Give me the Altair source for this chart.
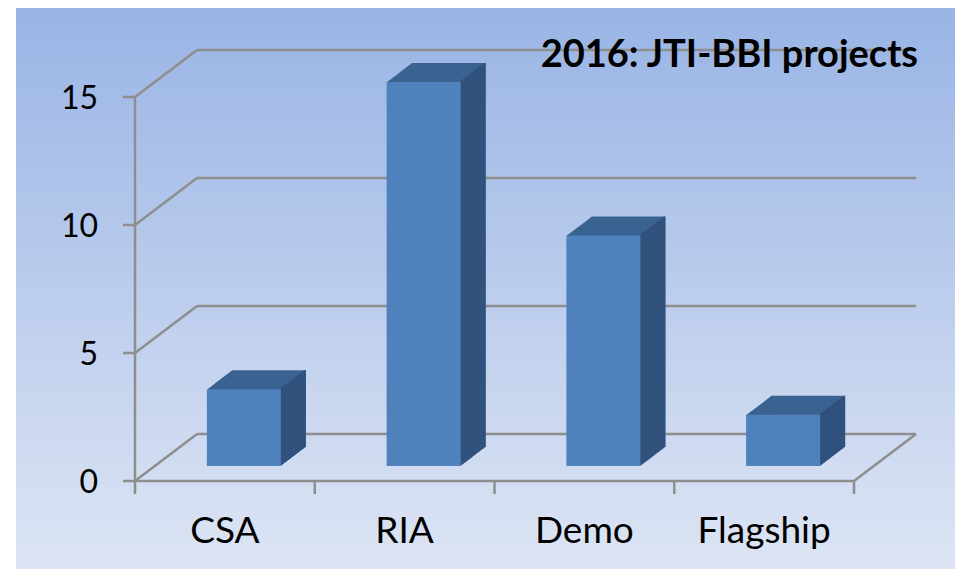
import altair as alt
import pandas as pd

# ---------------- data ----------------
categories = ["CSA", "RIA", "Demo", "Flagship"]
values = [3, 15, 9, 2]
y_ticks = [0, 5, 10, 15]
title_text = "2016: JTI-BBI projects"

n_cat = len(categories)
bars_df = pd.DataFrame({
    "category": categories,
    "value": values,
    "pos": [i + 0.5 for i in range(n_cat)],
})
grid_df = pd.DataFrame({"v": y_ticks, "label": [str(t) for t in y_ticks]})
bound_df = pd.DataFrame({"b": list(range(n_cat + 1))})
one_df = pd.DataFrame({"a": [0]})

# ---------------- style ----------------
W, H = 729, 384
FONT = "Lato"
GRAY = "#8e8e8e"
FRONT = "#4f81bd"
TOP = "#3b6391"
SIDE = "#30527e"
LW = 2.5
DEPTH_X, DEPTH_Y = 62, 47      # back wall offset (px)
BAR_DX, BAR_DY = 19, 15        # bars sit inside the floor (px)
BAR_W = 74
BAR_DEPTH = 25
SLOPE = 0.76

xs = alt.Scale(domain=[0, n_cat], nice=False, zero=False)
ys = alt.Scale(domain=[0, max(y_ticks)], nice=False)

def X(field=None, datum=None):
    if datum is not None:
        return alt.X(datum=datum, type="quantitative", scale=xs, axis=None)
    return alt.X(field, type="quantitative", scale=xs, axis=None)

def Y(field=None, datum=None):
    if datum is not None:
        return alt.Y(datum=datum, type="quantitative", scale=ys, axis=None)
    return alt.Y(field, type="quantitative", scale=ys, axis=None)

layers = []

# background panel with vertical gradient
grad = alt.LinearGradient(
    gradient="linear",
    stops=[alt.GradientStop(color="#99b4e5", offset=0),
           alt.GradientStop(color="#dde5f4", offset=1)],
    x1=0, x2=0, y1=0, y2=1,
)
layers.append(
    alt.Chart(one_df).mark_rect(color=grad).encode(
        x=alt.value(-114), x2=alt.value(825), y=alt.value(-89), y2=alt.value(472)
    )
)

# back wall gridlines
layers.append(
    alt.Chart(grid_df).mark_rule(
        color=GRAY, strokeWidth=LW,
        xOffset=DEPTH_X, x2Offset=DEPTH_X, yOffset=-DEPTH_Y, y2Offset=-DEPTH_Y,
    ).encode(x=X(datum=0), x2=alt.X2(datum=n_cat), y=Y("v"), y2=alt.Y2("v"))
)
# left wall diagonals
layers.append(
    alt.Chart(grid_df).mark_rule(
        color=GRAY, strokeWidth=LW, x2Offset=DEPTH_X, y2Offset=-DEPTH_Y,
    ).encode(x=X(datum=0), x2=alt.X2(datum=0), y=Y("v"), y2=alt.Y2("v"))
)
# floor right edge
layers.append(
    alt.Chart(one_df).mark_rule(
        color=GRAY, strokeWidth=LW, x2Offset=DEPTH_X, y2Offset=-DEPTH_Y,
    ).encode(x=X(datum=n_cat), x2=alt.X2(datum=n_cat), y=Y(datum=0), y2=alt.Y2(datum=0))
)

# front axes (drawn as rules)
layers.append(  # vertical axis line
    alt.Chart(one_df).mark_rule(color=GRAY, strokeWidth=LW).encode(
        x=X(datum=0), y=Y(datum=0), y2=alt.Y2(datum=max(y_ticks)))
)
layers.append(  # baseline
    alt.Chart(one_df).mark_rule(color=GRAY, strokeWidth=LW).encode(
        x=X(datum=0), x2=alt.X2(datum=n_cat), y=Y(datum=0))
)
layers.append(  # y ticks
    alt.Chart(grid_df).mark_rule(color=GRAY, strokeWidth=LW, x2Offset=-12).encode(
        x=X(datum=0), x2=alt.X2(datum=0), y=Y("v"), y2=alt.Y2("v"))
)
layers.append(  # x ticks at category boundaries
    alt.Chart(bound_df).mark_rule(color=GRAY, strokeWidth=LW, y2Offset=13).encode(
        x=X("b"), x2=alt.X2("b"), y=Y(datum=0), y2=alt.Y2(datum=0))
)
layers.append(  # y labels
    alt.Chart(grid_df).mark_text(
        font=FONT, fontSize=32, color="black", align="right",
        baseline="alphabetic", dx=-37, dy=12,
    ).encode(x=X(datum=0), y=Y("v"), text="label:N")
)

# bar extrusion: top face colour
for k in range(1, BAR_DEPTH + 1):
    off = -(BAR_DY + SLOPE * k)
    layers.append(
        alt.Chart(bars_df).mark_bar(
            color=TOP, size=BAR_W, orient="vertical",
            xOffset=BAR_DX + k, yOffset=off, y2Offset=off,
        ).encode(x=X("pos"), y=Y("value"), y2=alt.Y2(datum=0))
    )
# bar extrusion: side face colour
for k in range(1, BAR_DEPTH + 1):
    off = -(BAR_DY + SLOPE * k)
    layers.append(
        alt.Chart(bars_df).mark_bar(
            color=SIDE, size=2, orient="vertical",
            xOffset=BAR_DX + BAR_W / 2 - 1 + k, yOffset=off, y2Offset=off,
        ).encode(x=X("pos"), y=Y("value"), y2=alt.Y2(datum=0))
    )

# front faces
layers.append(
    alt.Chart(bars_df).mark_bar(
        color=FRONT, size=BAR_W, orient="vertical",
        xOffset=BAR_DX, yOffset=-BAR_DY, y2Offset=-BAR_DY,
    ).encode(x=X("pos"), y=Y("value"), y2=alt.Y2(datum=0))
)

# category labels
layers.append(
    alt.Chart(bars_df).mark_text(
        font=FONT, fontSize=37, color="black", baseline="alphabetic", dy=62,
    ).encode(x=X("pos"), y=Y(datum=0), text="category:N")
)

# title
layers.append(
    alt.Chart(one_df).mark_text(
        font=FONT, fontSize=38, fontWeight="bold", color="black",
        align="right", baseline="alphabetic",
    ).encode(x=alt.value(788), y=alt.value(-30), text=alt.value(title_text))
)

chart = alt.layer(*layers).properties(
    width=W, height=H,
    autosize=alt.AutoSizeParams(type="none"),
    padding={"left": 122, "top": 89, "right": 96, "bottom": 88},
).configure_view(stroke=None).configure(background="white")

chart.save("out.html", embed_options={"renderer": "svg", "actions": False})
